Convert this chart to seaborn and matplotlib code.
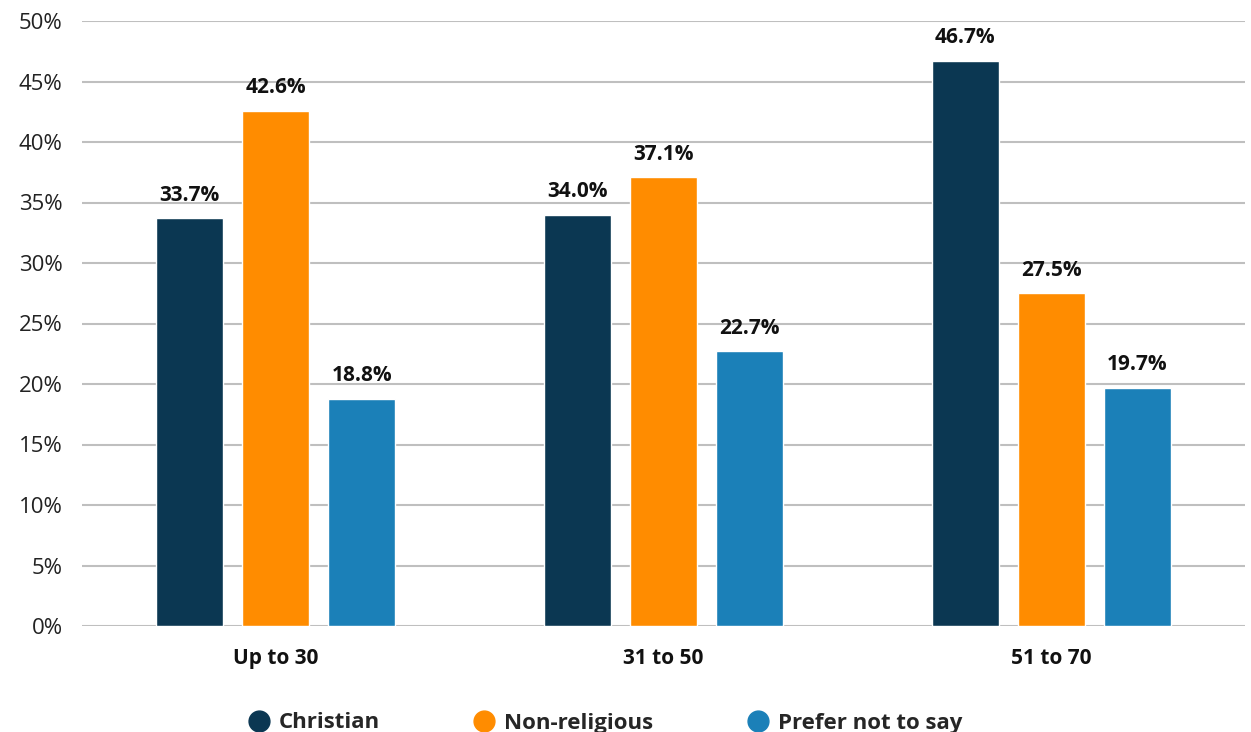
import matplotlib
matplotlib.use("Agg")
import matplotlib.pyplot as plt
from matplotlib.lines import Line2D
import seaborn as sns
import pandas as pd

age_groups = ["Up to 30", "31 to 50", "51 to 70"]
religions = ["Christian", "Non-religious", "Prefer not to say"]
christian = [33.7, 34.0, 46.7]
non_religious = [42.6, 37.1, 27.5]
prefer_not = [18.8, 22.7, 19.7]
y_ticks = [0, 5, 10, 15, 20, 25, 30, 35, 40, 45, 50]
colors = ["#0b3752", "#ff8c00", "#1b80b8"]

rows = []
for series, name in zip([christian, non_religious, prefer_not], religions):
    for grp, v in zip(age_groups, series):
        rows.append({"Age": grp, "Religion": name, "Value": v})
df = pd.DataFrame(rows)

sns.set_theme(style="white")
plt.rcParams["font.family"] = ["Open Sans", "DejaVu Sans"]

fig = plt.figure(figsize=(12.51, 7.32), dpi=100)
ax = fig.add_axes([82 / 1251, 1 - 626 / 732, (1245 - 82) / 1251, (626 - 21) / 732])

sns.barplot(data=df, x="Age", y="Value", hue="Religion", order=age_groups,
            hue_order=religions, palette=colors, width=0.666, gap=0.22,
            errorbar=None, ax=ax, legend=False, saturation=1, zorder=3)

for container in ax.containers:
    ax.bar_label(container, labels=[f"{v:.1f}%" for v in container.datavalues],
                 padding=9, fontsize=15, fontweight="bold", color="#111111")

ax.set_ylim(0, 50)
ax.set_xlim(-0.5, 2.5)
ax.set_yticks(y_ticks)
ax.set_yticklabels([f"{t}%" for t in y_ticks], fontsize=16, color="#222222")
ax.yaxis.grid(True, color="#bfbfbf", linewidth=1.5, zorder=0)
ax.set_axisbelow(True)
for s in ax.spines.values():
    s.set_visible(False)
ax.tick_params(axis="y", length=0, pad=14)
ax.tick_params(axis="x", length=0, pad=16)
for lbl in ax.get_xticklabels():
    lbl.set_fontweight("bold")
    lbl.set_fontsize(15)
    lbl.set_color("#111111")
ax.set_xlabel("")
ax.set_ylabel("")

handles = [Line2D([0], [0], marker="o", linestyle="", markersize=15,
                  markerfacecolor=c, markeredgecolor=c) for c in colors]
fig.legend(handles, religions, loc="center", bbox_to_anchor=(0.481, 9 / 732),
           ncol=3, frameon=False, prop={"size": 16, "weight": "bold"},
           handletextpad=0.1, columnspacing=3.9, handlelength=1.6)

fig.savefig("out.png", dpi=100)
